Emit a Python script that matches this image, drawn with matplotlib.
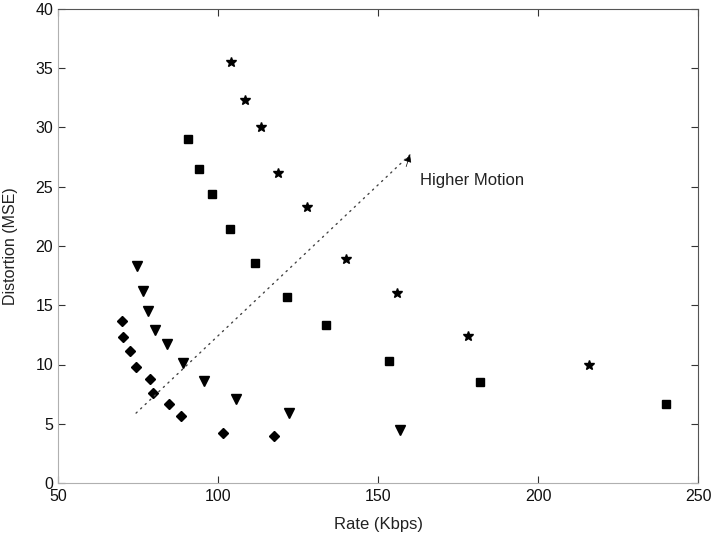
import matplotlib
matplotlib.use("Agg")
import matplotlib.pyplot as plt

plt.rcParams['font.family'] = ['Liberation Sans', 'DejaVu Sans']

# Data (Rate in Kbps, Distortion in MSE)
star_rate = [104.1, 108.4, 113.4, 118.8, 127.8, 140.0, 155.9, 178.1, 215.9]
star_mse = [35.5, 32.3, 30.0, 26.2, 23.3, 18.9, 16.0, 12.4, 10.0]

square_rate = [90.6, 94.1, 98.1, 103.8, 111.6, 121.6, 133.8, 153.4, 181.9, 240.0]
square_mse = [29.0, 26.5, 24.4, 21.4, 18.6, 15.7, 13.3, 10.3, 8.5, 6.7]

tri_rate = [74.6, 76.5, 78.1, 80.4, 84.0, 89.2, 95.6, 105.5, 122.3, 156.9]
tri_mse = [18.3, 16.2, 14.5, 12.9, 11.7, 10.1, 8.6, 7.1, 5.9, 4.5]

dia_rate = [69.9, 70.2, 72.6, 74.5, 78.8, 79.6, 84.8, 88.4, 101.5, 117.6]
dia_mse = [13.7, 12.3, 11.1, 9.8, 8.8, 7.6, 6.7, 5.65, 4.2, 4.0]

arrow_start = (74.4, 5.9)
arrow_end = (160.0, 27.7)
annot_text = "Higher Motion"
annot_pos = (163.0, 25.5)

xticks = [50, 100, 150, 200, 250]
yticks = [0, 5, 10, 15, 20, 25, 30, 35, 40]

fig = plt.figure(figsize=(7.13, 5.38), dpi=100)
ax = fig.add_axes([58/713, 55/538, 640/713, 474/538])

ax.plot(star_rate, star_mse, linestyle='none', marker='*', color='black', markersize=7)
ax.plot(square_rate, square_mse, linestyle='none', marker='s', color='black', markersize=6)
ax.plot(tri_rate, tri_mse, linestyle='none', marker='v', color='black', markersize=7)
ax.plot(dia_rate, dia_mse, linestyle='none', marker='D', color='black', markersize=5)

ax.annotate('', xy=arrow_end, xytext=arrow_start,
            arrowprops=dict(arrowstyle='-', linestyle=(0, (1, 3.5)), color='#444444',
                            lw=1.0, shrinkA=0, shrinkB=0))
ax.annotate('', xy=arrow_end, xytext=(arrow_end[0] - 1.2, arrow_end[1] - 1.0),
            arrowprops=dict(arrowstyle='-|>', color='black', lw=0.5,
                            mutation_scale=11, shrinkA=0, shrinkB=0))
ax.text(annot_pos[0], annot_pos[1], annot_text, fontsize=12, color='#222222',
        va='center', ha='left')

ax.set_xlim(50, 250)
ax.set_ylim(0, 40)
ax.set_xticks(xticks)
ax.set_yticks(yticks)
ax.tick_params(direction='in', top=True, right=True, labelsize=11.5, length=5,
               colors='#333333', labelcolor='#111111')
ax.tick_params(axis='x', pad=4.5)
ax.set_xlabel('Rate (Kbps)', fontsize=12, color='#222222')
ax.set_ylabel('Distortion (MSE)', fontsize=11.5, color='#222222')
ax.xaxis.set_label_coords(0.5, -0.072)
ax.yaxis.set_label_coords(-0.062, 0.5)

for s in ['left', 'bottom']:
    ax.spines[s].set_color('#b0b0b0')
for s in ['top', 'right']:
    ax.spines[s].set_color('#555555')

fig.savefig('out.png', dpi=100)
